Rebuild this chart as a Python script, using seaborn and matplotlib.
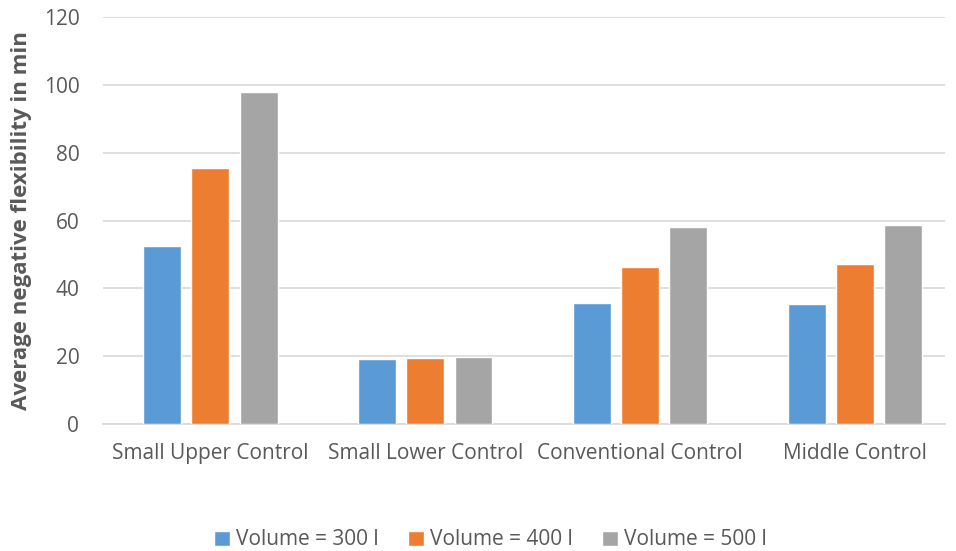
import numpy as np
import pandas as pd
import matplotlib
matplotlib.use("Agg")
import matplotlib.pyplot as plt
import seaborn as sns

categories = ["Small Upper Control", "Small Lower Control", "Conventional Control", "Middle Control"]
volumes = ["Volume = 300 l", "Volume = 400 l", "Volume = 500 l"]
vol_300 = [52.4, 19.3, 35.6, 35.3]
vol_400 = [75.5, 19.6, 46.2, 47.1]
vol_500 = [97.9, 19.8, 58.0, 58.6]
colors = ["#5B9BD5", "#ED7D31", "#A5A5A5"]

df = pd.DataFrame({
    "category": categories * 3,
    "volume": np.repeat(volumes, len(categories)),
    "value": vol_300 + vol_400 + vol_500,
})

sns.set_style("white")
plt.rcParams["font.family"] = ["Open Sans", "DejaVu Sans"]

fig = plt.figure(figsize=(9.56, 5.51), dpi=100)
ax = fig.add_axes([0.1077, 0.2305, 0.881, 0.7385])

sns.barplot(data=df, x="category", y="value", hue="volume", order=categories,
            hue_order=volumes, palette=colors, width=0.674, gap=0.216,
            saturation=1, ax=ax, zorder=3)

ax.set_ylim(0, 120)
ax.set_yticks(np.arange(0, 121, 20))
ax.set_xlim(-0.5, 3.42)
ax.yaxis.grid(True, color="#D9D9D9", linewidth=1.2, zorder=0)
ax.set_axisbelow(True)
for s in ["top", "right", "left"]:
    ax.spines[s].set_visible(False)
ax.spines["bottom"].set_color("#D9D9D9")
ax.spines["bottom"].set_linewidth(1.2)
ax.tick_params(axis="both", length=0, labelsize=15, colors="#595959")
ax.tick_params(axis="x", pad=14)
ax.tick_params(axis="y", pad=17)
ax.set_xlabel("")
ax.set_ylabel("Average negative flexibility in min", fontsize=16, fontweight="bold",
              color="#595959", labelpad=8)

ax.legend(loc="center", bbox_to_anchor=(0.46, -0.285), ncol=3, frameon=False,
          fontsize=15, labelcolor="#595959", handlelength=0.75, handleheight=0.75,
          columnspacing=1.42, handletextpad=0.3)

fig.savefig("out.png", dpi=100)
